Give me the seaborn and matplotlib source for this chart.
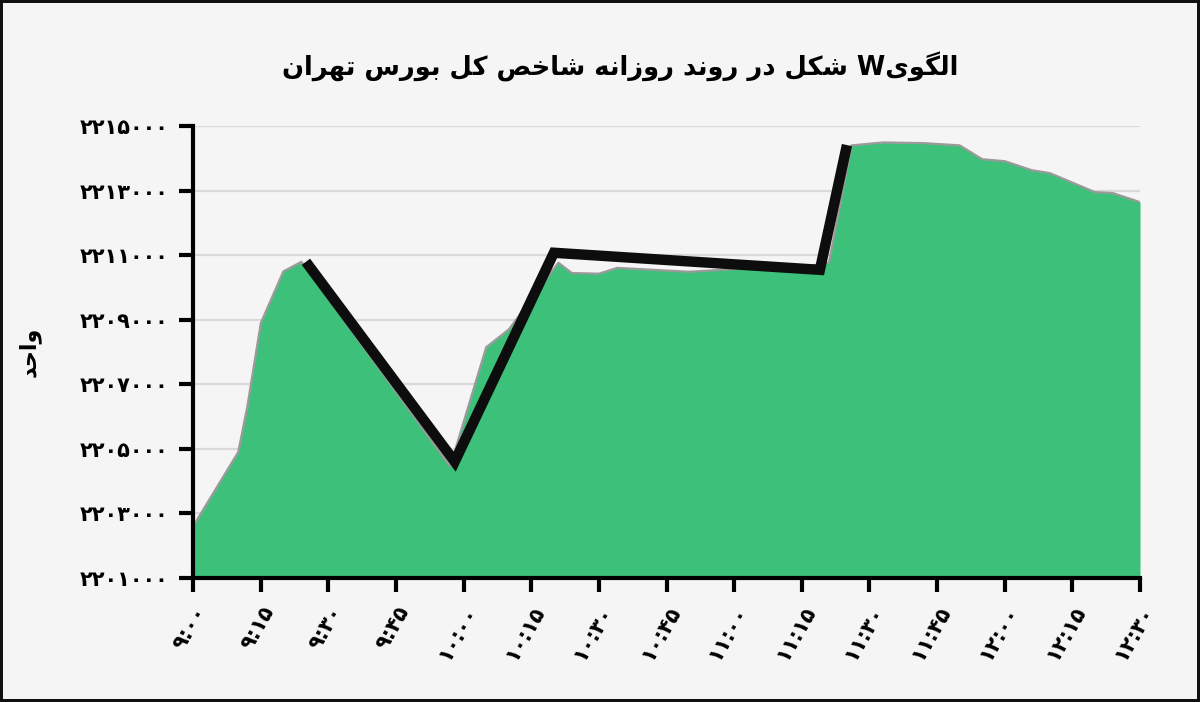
import matplotlib
matplotlib.use("Agg")
import matplotlib.pyplot as plt
import seaborn as sns
import pandas as pd

# area: index intraday path (time, value)
area_times = ["09:00", "09:10", "09:12", "09:15", "09:20", "09:24", "09:57", "10:05",
              "10:10", "10:21", "10:24", "10:30", "10:34", "10:50", "11:08", "11:18",
              "11:21", "11:26", "11:33", "11:42", "11:50", "11:55", "12:00", "12:06",
              "12:10", "12:20", "12:24", "12:30"]
area_values = [2202600, 2204900, 2206300, 2208900, 2210500, 2210800, 2204450, 2208150,
               2208700, 2210770, 2210450, 2210430, 2210610, 2210490, 2210640, 2210700,
               2210770, 2214410, 2214500, 2214480, 2214410, 2213980, 2213920, 2213640,
               2213550, 2212960, 2212930, 2212650]

# the W pattern drawn on top
w_times = ["09:25", "09:58", "10:20", "11:19", "11:25"]
w_values = [2210800, 2204600, 2211080, 2210550, 2214420]

x_ticks = ["9:00", "9:15", "9:30", "9:45", "10:00", "10:15", "10:30", "10:45",
           "11:00", "11:15", "11:30", "11:45", "12:00", "12:15", "12:30"]
y_ticks = [2201000, 2203000, 2205000, 2207000, 2209000, 2211000, 2213000, 2215000]

title = "الگویW شکل در روند روزانه شاخص کل بورس تهران"
y_label = "واحد"

FA_DIGITS = str.maketrans("0123456789", "۰۱۲۳۴۵۶۷۸۹")

# (isolated, final, initial, medial) presentation forms
FORMS = {
    "ا": ("\uFE8D", "\uFE8E", None, None),
    "ب": ("\uFE8F", "\uFE90", "\uFE91", "\uFE92"),
    "ت": ("\uFE95", "\uFE96", "\uFE97", "\uFE98"),
    "ح": ("\uFEA1", "\uFEA2", "\uFEA3", "\uFEA4"),
    "خ": ("\uFEA5", "\uFEA6", "\uFEA7", "\uFEA8"),
    "د": ("\uFEA9", "\uFEAA", None, None),
    "ر": ("\uFEAD", "\uFEAE", None, None),
    "ز": ("\uFEAF", "\uFEB0", None, None),
    "س": ("\uFEB1", "\uFEB2", "\uFEB3", "\uFEB4"),
    "ش": ("\uFEB5", "\uFEB6", "\uFEB7", "\uFEB8"),
    "ص": ("\uFEB9", "\uFEBA", "\uFEBB", "\uFEBC"),
    "ل": ("\uFEDD", "\uFEDE", "\uFEDF", "\uFEE0"),
    "ن": ("\uFEE5", "\uFEE6", "\uFEE7", "\uFEE8"),
    "ه": ("\uFEE9", "\uFEEA", "\uFEEB", "\uFEEC"),
    "و": ("\uFEED", "\uFEEE", None, None),
    "ک": ("\uFB8E", "\uFB8F", "\uFB90", "\uFB91"),
    "گ": ("\uFB92", "\uFB93", "\uFB94", "\uFB95"),
    "ی": ("\uFBFC", "\uFBFD", "\uFBFE", "\uFBFF"),
}


def rtl(text):
    # crude shaping + reorder so matplotlib shows persian correctly
    out = []
    for i, ch in enumerate(text):
        if ch not in FORMS:
            out.append(ch)
            continue
        prev = text[i - 1] if i > 0 else ""
        nxt = text[i + 1] if i + 1 < len(text) else ""
        j_prev = prev in FORMS and FORMS[prev][2] is not None
        j_next = FORMS[ch][2] is not None and nxt in FORMS
        iso, fin, ini, med = FORMS[ch]
        if j_prev and j_next:
            out.append(med)
        elif j_prev:
            out.append(fin)
        elif j_next:
            out.append(ini)
        else:
            out.append(iso)
    return "".join(out)[::-1]


def minutes(t):
    h, m = t.split(":")
    return (int(h) - 9) * 60 + int(m)


area = pd.DataFrame({"t": [minutes(t) for t in area_times], "v": area_values})
w = pd.DataFrame({"t": [minutes(t) for t in w_times], "v": w_values})

sns.set_style("white")
plt.rcParams["font.family"] = ["DejaVu Sans"]
plt.rcParams["text.color"] = "black"

fig = plt.figure(figsize=(12, 7.02), dpi=100)
fig.patch.set_facecolor("#f5f5f5")
fig.patch.set_edgecolor("#111111")
fig.patch.set_linewidth(3)
ax = fig.add_axes([0.161, 0.177, 0.789, 0.643])
ax.set_facecolor("#f5f5f5")

for yv in y_ticks:
    ax.axhline(yv, color="#d9d9d9", lw=1.6, zorder=0)

ax.fill_between(area["t"], area["v"], y_ticks[0], color="#3dc07a", zorder=1, lw=0)
sns.lineplot(data=area, x="t", y="v", ax=ax, color="#9a9a9a", lw=1.6, zorder=2)
sns.lineplot(data=w, x="t", y="v", ax=ax, color="#0d0d0d", lw=7.5, zorder=3,
             solid_capstyle="butt", solid_joinstyle="miter")

ax.set_xlim(0, 210)
ax.set_ylim(y_ticks[0], y_ticks[-1])
ax.set_xticks([15 * i for i in range(len(x_ticks))])
ax.set_xticklabels([t.translate(FA_DIGITS) for t in x_ticks],
                   rotation=60, ha="right", va="top", rotation_mode="anchor",
                   fontsize=15, fontweight="bold", color="black")
ax.set_yticks(y_ticks)
ax.set_yticklabels([str(v).translate(FA_DIGITS) for v in y_ticks],
                   fontsize=15, fontweight="bold", color="black")
ax.tick_params(axis="both", direction="out", length=10, width=3, color="black", pad=8,
               bottom=True, left=True)
ax.set_xlabel("")
ax.set_ylabel(rtl(y_label), fontsize=16, fontweight="bold", labelpad=28, color="black")

for side in ["top", "right"]:
    ax.spines[side].set_visible(False)
for side in ["left", "bottom"]:
    ax.spines[side].set_linewidth(3)
    ax.spines[side].set_color("black")

fig.text(0.517, 0.905, rtl(title), ha="center", va="center", fontsize=18.5,
         fontweight="bold", color="black")

fig.savefig("out.png", dpi=100, facecolor=fig.get_facecolor(), edgecolor=fig.get_edgecolor())
